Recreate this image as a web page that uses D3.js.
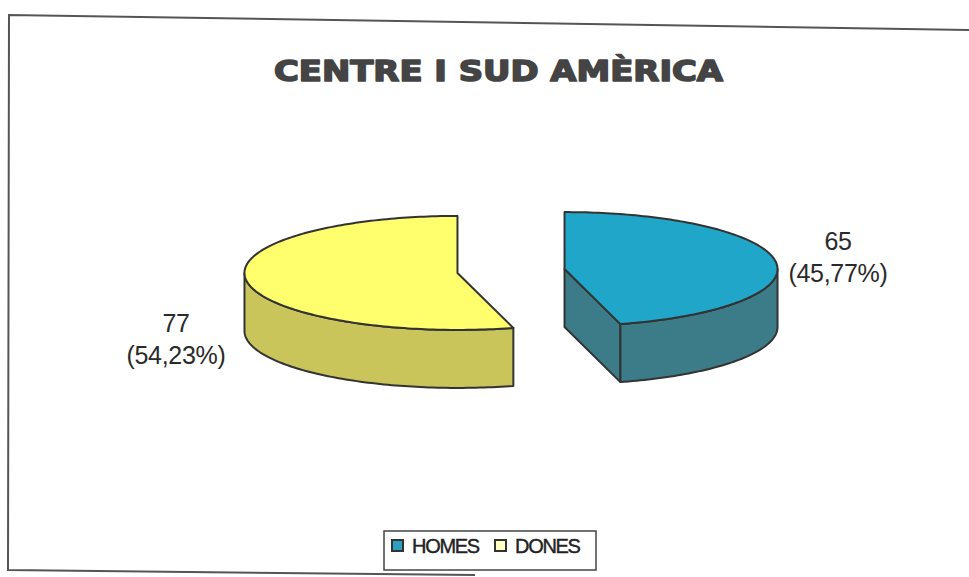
<!DOCTYPE html>
<html>
<head>
<meta charset="utf-8">
<script src="https://cdn.jsdelivr.net/npm/d3@7"></script>
<style>
  html, body { margin: 0; padding: 0; background: #fff; }
  svg { display: block; }
</style>
</head>
<body>
<svg id="chart" width="969" height="577"></svg>
<script>
// ---- data ----
const categories = ["HOMES", "DONES"];
const values = [65, 77];
const percentLabels = ["45,77%", "54,23%"];
const title = "CENTRE I SUD AMÈRICA";

// ---- styles ----
const topColors = ["#1fa6c8", "#ffff6e"];
const sideColors = ["#3b7c88", "#c9c55a"];
const legendColors = ["#2a9fbf", "#ffffc4"];
const outline = "#333";

const svg = d3.select("#chart");

// frame (scanned, slightly skewed)
svg.append("path")
  .attr("d", "M975,30 L9,15 L8,570 L475,575")
  .attr("fill", "none").attr("stroke", "#555").attr("stroke-width", 2);

// title
svg.append("text")
  .attr("x", 274).attr("y", 81)
  .attr("textLength", 449).attr("lengthAdjust", "spacingAndGlyphs")
  .attr("font-family", "DejaVu Sans, sans-serif")
  .attr("font-weight", "bold").attr("font-size", 28)
  .attr("fill", "#444").attr("stroke", "#444").attr("stroke-width", 1.6)
  .attr("stroke-linejoin", "round")
  .text(title);

// ---- 3D pie ----
const cx = 511, cy = 271, rx = 213, ry = 57, depth = 58, explode = 54;
const pie = d3.pie().sort(null).startAngle(0).endAngle(2 * Math.PI);
const arcs = pie(values);

const line = d3.line();
function pt(ox, oy, a, dz) {
  return [ox + rx * Math.sin(a), oy - ry * Math.cos(a) + (dz || 0)];
}
function arcPts(ox, oy, a0, a1, dz) {
  const n = Math.max(2, Math.ceil(Math.abs(a1 - a0) / 0.02));
  return d3.range(n + 1).map(i => pt(ox, oy, a0 + (a1 - a0) * i / n, dz));
}

const g = svg.append("g");
arcs.forEach((d, i) => {
  const mid = (d.startAngle + d.endAngle) / 2;
  const ox = cx + explode * Math.sin(mid);
  const oy = cy - explode * (ry / rx) * Math.cos(mid);
  const sg = g.append("g");

  // cut faces
  [[d.startAngle, d.startAngle - Math.PI / 2], [d.endAngle, d.endAngle + Math.PI / 2]].forEach(([a, nrm]) => {
    if (Math.cos(nrm) < -1e-6) {
      const p = pt(ox, oy, a), pd = pt(ox, oy, a, depth);
      sg.append("path")
        .attr("d", line([[ox, oy], p, pd, [ox, oy + depth]]) + "Z")
        .attr("fill", sideColors[i]).attr("stroke", outline)
        .attr("stroke-width", 2).attr("stroke-linejoin", "round");
    }
  });

  // outer wall (front half only)
  const s = Math.max(d.startAngle, Math.PI / 2), e = Math.min(d.endAngle, 3 * Math.PI / 2);
  if (e > s) {
    const pts = arcPts(ox, oy, s, e, 0).concat(arcPts(ox, oy, e, s, depth));
    sg.append("path")
      .attr("d", line(pts) + "Z")
      .attr("fill", sideColors[i]).attr("stroke", outline)
      .attr("stroke-width", 2).attr("stroke-linejoin", "round");
  }

  // top face
  const topPts = [[ox, oy]].concat(arcPts(ox, oy, d.startAngle, d.endAngle, 0));
  sg.append("path")
    .attr("d", line(topPts) + "Z")
    .attr("fill", topColors[i]).attr("stroke", outline)
    .attr("stroke-width", 2).attr("stroke-linejoin", "round");
});

// data labels
const labelPos = [[838, 250], [176, 332]];
arcs.forEach((d, i) => {
  const t = svg.append("text")
    .attr("text-anchor", "middle")
    .attr("font-family", "Liberation Sans, Arial, sans-serif")
    .attr("font-size", 25).attr("letter-spacing", -0.3).attr("fill", "#2a2a2a");
  t.append("tspan").attr("x", labelPos[i][0]).attr("y", labelPos[i][1]).text(values[i]);
  t.append("tspan").attr("x", labelPos[i][0]).attr("y", labelPos[i][1] + 32).text("(" + percentLabels[i] + ")");
});

// legend
const lg = svg.append("g");
lg.append("rect").attr("x", 384).attr("y", 531).attr("width", 212).attr("height", 39)
  .attr("fill", "#fff").attr("stroke", "#444").attr("stroke-width", 1.5);
const legendX = [392, 495];
categories.forEach((c, i) => {
  lg.append("rect").attr("x", legendX[i]).attr("y", 540).attr("width", 11).attr("height", 11)
    .attr("fill", legendColors[i]).attr("stroke", "#333").attr("stroke-width", 2);
  lg.append("text").attr("x", legendX[i] + 20).attr("y", 553)
    .attr("font-family", "Liberation Sans, Arial, sans-serif")
    .attr("font-size", 20).attr("letter-spacing", -1.3).attr("fill", "#222")
    .attr("stroke", "#222").attr("stroke-width", 0.4)
    .text(c);
});
</script>
</body>
</html>
